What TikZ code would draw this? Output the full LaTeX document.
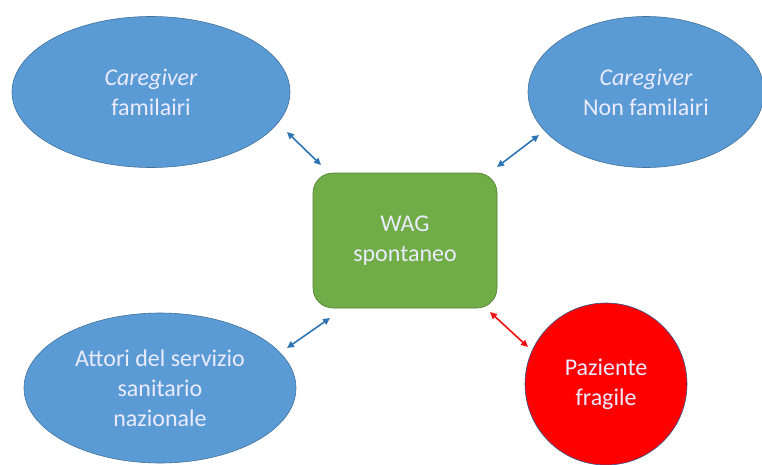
\documentclass[tikz,border=0pt]{standalone}
\usepackage{fontspec}
\setmainfont{Carlito}
\usetikzlibrary{arrows.meta,shapes.geometric}
\definecolor{bluefill}{HTML}{5B9BD5}
\definecolor{blueline}{HTML}{41719C}
\definecolor{greenfill}{HTML}{70AD47}
\definecolor{greenline}{HTML}{507E32}
\definecolor{redfill}{HTML}{FF0000}
\definecolor{redline}{HTML}{2F528F}
\definecolor{arrowblue}{HTML}{2E75B6}
\definecolor{arrowred}{HTML}{EE1111}
\tikzset{
  txt/.style={text=white!92!blue, font=\fontsize{24}{30}\selectfont, align=center},
  blueell/.style={ellipse, fill=bluefill, draw=blueline, line width=0.6pt, inner sep=0pt, txt},
  conn/.style={{Triangle[length=7pt,width=6.5pt]}-{Triangle[length=7pt,width=6.5pt]}, line width=1.6pt},
}
\begin{document}
\begin{tikzpicture}[x=1pt,y=-1pt]
\useasboundingbox (0,0) rectangle (762,464);
\node[blueell, minimum width=278pt, minimum height=151pt] (cf) at (151,92) {\itshape Caregiver\\familairi};
\node[blueell, minimum width=236pt, minimum height=151pt] (cnf) at (646,92) {\itshape Caregiver\\Non familairi};
\node[blueell, minimum width=272pt, minimum height=150pt] (ssn) at (160,388) {Attori del servizio\\sanitario\\nazionale};
\node[circle, fill=redfill, draw=redline, line width=0.6pt, minimum size=162pt, inner sep=0pt, txt] (pf) at (606,384) {Paziente\\fragile};
\node[rectangle, rounded corners=20pt, fill=greenfill, draw=greenline, line width=0.6pt, minimum width=184pt, minimum height=135pt, txt] (wag) at (405,240.5) {WAG\\spontaneo};
\coordinate (a1) at (287,132);
\coordinate (a2) at (321,165);
\coordinate (b1) at (539,135);
\coordinate (b2) at (497,167);
\coordinate (c1) at (330,318);
\coordinate (c2) at (287,348);
\coordinate (d1) at (490,312);
\coordinate (d2) at (528,347);
\draw[conn, arrowblue] (a1) -- (a2);
\draw[conn, arrowblue] (b1) -- (b2);
\draw[conn, arrowblue] (c1) -- (c2);
\draw[conn, arrowred] (d1) -- (d2);
\end{tikzpicture}
\end{document}
